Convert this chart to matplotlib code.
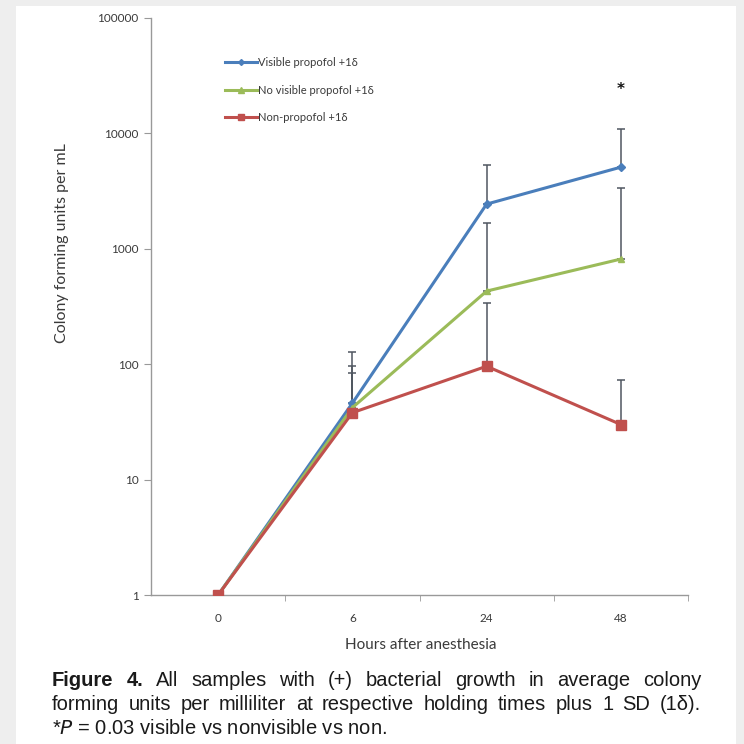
import matplotlib
matplotlib.use("Agg")
import matplotlib.pyplot as plt
import numpy as np
from matplotlib.patches import Rectangle

hours = ["0", "6", "24", "48"]
visible = [1, 46, 2440, 5100]
visible_sd_top = [1, 128, 5300, 10900]
novisible = [1, 42, 430, 815]
novisible_sd_top = [1, 96, 1670, 3370]
nonpropofol = [1, 38, 96, 30]
nonpropofol_sd_top = [1, 84, 340, 73]
labels = ["Visible propofol +1\u03b4", "No visible propofol +1\u03b4", "Non-propofol +1\u03b4"]
yticks = [1, 10, 100, 1000, 10000, 100000]

W = H = 744
fig = plt.figure(figsize=(W/100, H/100), dpi=100)
fig.patch.set_facecolor("#eeeeee")
bg = Rectangle((16/W, 0), (736-16)/W, (744-6)/H, transform=fig.transFigure,
               facecolor="white", edgecolor="none", zorder=-10)
fig.patches.append(bg)

sf = ["Lato", "DejaVu Sans"]
ax = fig.add_axes([151/W, 1-595/H, (688-151)/W, (595-18)/H])
ax.set_zorder(2)
ax.set_facecolor("none")
x = np.arange(len(hours))
series = [
    (visible, visible_sd_top, "#4a7ebb", "D", 4),
    (novisible, novisible_sd_top, "#9bbb59", "^", 5),
    (nonpropofol, nonpropofol_sd_top, "#c0504d", "s", 6.5),
]
lines = []
for (vals, top, col, mk, ms), lab in zip(series, labels):
    vals = np.array(vals, float); top = np.array(top, float)
    up = top - vals
    ax.errorbar(x[1:], vals[1:], yerr=[np.zeros(3), up[1:]], fmt="none",
                ecolor="#4f5660", elinewidth=1.1, capsize=3, capthick=1.1, zorder=2)
    l, = ax.plot(x, vals, color=col, lw=2.2, marker=mk, ms=ms, mec=col, mfc=col,
                 label=lab, zorder=3)
    lines.append(l)

ax.set_yscale("log")
ax.set_ylim(1, 100000)
ax.set_xlim(-0.5, 3.5)
ax.set_yticks(yticks)
ax.set_yticklabels([str(v) for v in yticks])
ax.yaxis.set_minor_locator(matplotlib.ticker.NullLocator())
ax.set_xticks(x)
ax.set_xticklabels(hours)
ax.set_xticks([0.5, 1.5, 2.5, 3.5], minor=True)
ax.tick_params(axis="x", which="major", length=0, pad=13, labelsize=8.5, colors="#3a3a3a")
ax.tick_params(axis="x", which="minor", length=4, color="#999999", direction="out")
ax.tick_params(axis="y", length=5, color="#999999", labelsize=8.5, colors="#3a3a3a", pad=4)
for lab in ax.get_xticklabels() + ax.get_yticklabels():
    lab.set_fontfamily(sf)
for s in ["top", "right"]:
    ax.spines[s].set_visible(False)
for s in ["left", "bottom"]:
    ax.spines[s].set_color("#999999")
    ax.spines[s].set_linewidth(1.0)

ax.annotate("*", xy=(3, 5100), xytext=(0, 78), textcoords="offset pixels",
            ha="center", va="center", fontsize=11, fontweight="bold", color="#111111")

leg = ax.legend(handles=lines, loc="upper left", bbox_to_anchor=(64/537, 1-29/577),
                frameon=False, handlelength=2.9, handletextpad=0.1, labelspacing=1.5,
                markerscale=0.75, prop={"family": sf, "size": 8})
for t in leg.get_texts():
    t.set_color("#3a3a3a")

fig.text(62/W, 1-243/H, "Colony forming units per mL", rotation=90, ha="center", va="center",
         fontsize=11.5, color="#3a3a3a", family=sf)
fig.text(421/W, 1-645/H, "Hours after anesthesia", ha="center", va="center",
         fontsize=11, color="#3a3a3a", family=sf)

cf = ["Liberation Sans", "DejaVu Sans"]
fs = 14.5
X0, X1 = 52, 701
renderer = fig.canvas.get_renderer()

def justify(words, ypix, bold_first=0):
    arts = []
    for i, w in enumerate(words):
        t = fig.text(0, 1 - ypix/H, w, fontsize=fs, family=cf, va="center",
                     fontweight="bold" if i < bold_first else "normal", color="#1a1a1a")
        arts.append(t)
    widths = [a.get_window_extent(renderer).width for a in arts]
    gap = (X1 - X0 - sum(widths)) / (len(words) - 1)
    xp = X0
    for a, w in zip(arts, widths):
        a.set_x(xp / W)
        xp += w + gap

justify(["Figure", "4.", "All", "samples", "with", "(+)", "bacterial", "growth", "in",
         "average", "colony"], 681, bold_first=2)
justify(["forming", "units", "per", "milliliter", "at", "respective", "holding", "times",
         "plus", "1", "SD", "(1\u03b4)."], 705)
fig.text(52/W, 1-729/H, "*$P$ = 0.03 visible vs nonvisible vs non.", fontsize=fs, family=cf,
         va="center", color="#1a1a1a")

fig.savefig("out.png", dpi=100, facecolor=fig.get_facecolor())
